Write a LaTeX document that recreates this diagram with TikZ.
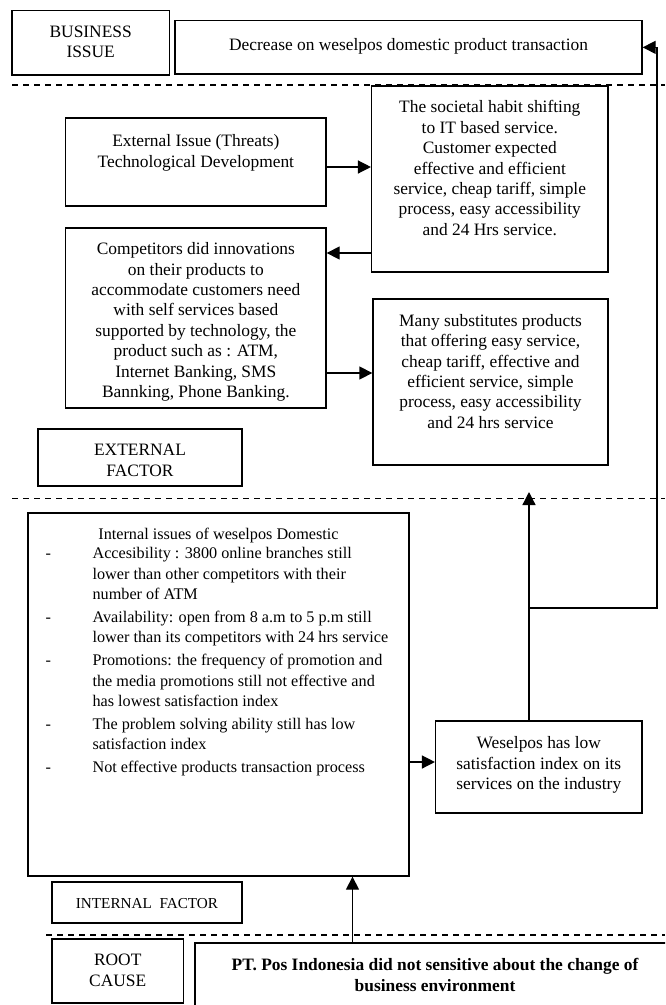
\documentclass[tikz,border=0pt]{standalone}
\usepackage{fontspec}
\setmainfont{Liberation Serif}
\usetikzlibrary{arrows.meta,calc}
\tikzset{
  box/.style={draw, line width=1.3pt, rectangle, inner sep=0pt},
  txt/.style={inner sep=0pt, align=center, font=\fontsize{17.4}{20.4}\selectfont,
              execute at begin node={\rule{0pt}{14pt}}},
  smalltxt/.style={inner sep=0pt, align=center, font=\fontsize{16.2}{20.4}\selectfont,
              execute at begin node={\rule{0pt}{14pt}}},
  listtxt/.style={inner sep=0pt, font=\fontsize{16.2}{20.4}\selectfont},
  conn/.style={line width=1.3pt, -{Triangle[length=13pt,width=13pt]}},
  sepline/.style={line width=1.3pt, dash pattern=on 6pt off 5pt},
}
\begin{document}
\begin{tikzpicture}[x=1pt,y=-1pt]
\clip (0,0) rectangle (665,1005);
% separators
\draw[sepline] (12,85) -- (665,85);
\draw[sepline] (12,498.5) -- (665,498.5);
\draw[sepline] (46,935) -- (665,935);
% boxes
\node[box, minimum width=157.6pt, minimum height=64.3pt] (bus) at (90.7,42.85) {};
\node[box, minimum width=467pt, minimum height=53.3pt] (dec) at (408.5,47.35) {};
\node[box, minimum width=260.3pt, minimum height=88pt] (ext) at (195.85,162) {};
\node[box, minimum width=236.4pt, minimum height=186pt] (soc) at (489.8,179) {};
\node[box, minimum width=260.3pt, minimum height=180pt] (comp) at (195.85,318) {};
\node[box, minimum width=235pt, minimum height=166pt] (many) at (490.5,382) {};
\node[box, minimum width=204pt, minimum height=57pt] (extf) at (140,457.5) {};
\node[box, minimum width=381pt, minimum height=363pt] (int) at (218.5,694.5) {};
\node[box, minimum width=206.4pt, minimum height=92pt] (wes) at (538.8,767) {};
\node[box, minimum width=190pt, minimum height=41pt] (intf) at (147,902.5) {};
\node[box, minimum width=131.5pt, minimum height=64pt] (root) at (117.75,971) {};
\node[box, minimum width=480pt, minimum height=87pt] (pt) at (435,986.5) {};
% texts
\node[txt, anchor=north] (bust) at (90.7,25.7) {BUSINESS\\ISSUE};
\node[txt, anchor=north] (dect) at (408.5,35.8) {Decrease on weselpos domestic product transaction};
\node[txt, anchor=north] (extt) at (195.85,134.5) {External Issue (Threats)\\Technological Development};
\node[txt, anchor=north] (soct) at (489.8,100.5) {The societal habit shifting\\to IT based service.\\Customer expected\\effective and efficient\\service, cheap tariff, simple\\process, easy accessibility\\and 24 Hrs service.};
\node[txt, anchor=north] (compt) at (195.85,242.5) {Competitors did innovations\\on their products to\\accommodate customers need\\with self services based\\supported by technology, the\\product such as : ATM,\\Internet Banking, SMS\\Bannking, Phone Banking.};
\node[txt, anchor=north] (manyt) at (490.5,314) {Many substitutes products\\that offering easy service,\\cheap tariff, effective and\\efficient service, simple\\process, easy accessibility\\and 24 hrs service};
\node[txt, anchor=north] (extft) at (140,444) {EXTERNAL\\FACTOR};
\node[smalltxt, anchor=north] (inth) at (218.5,525.5) {Internal issues of weselpos Domestic};
\node[listtxt, anchor=north west] (intl) at (45.5,544.2) {%
\begin{tabular}{@{}p{46.9pt}@{}l@{}}
-&Accesibility : 3800 online branches still\\
&lower than other competitors with their\\
&number of ATM\\[2.5pt]
-&Availability: open from 8 a.m to 5 p.m still\\
&lower than its competitors with 24 hrs service\\[2.5pt]
-&Promotions: the frequency of promotion and\\
&the media promotions still not effective and\\
&has lowest satisfaction index\\[2.5pt]
-&The problem solving ability still has low\\
&satisfaction index\\[2.5pt]
-&Not effective products transaction process
\end{tabular}};
\node[txt, anchor=north] (west) at (538.8,736.5) {Weselpos has low\\satisfaction index on its\\services on the industry};
\node[txt, anchor=north, font=\fontsize{15.2}{20.4}\selectfont] (intft) at (147,894) {INTERNAL\ \ FACTOR};
\node[txt, anchor=north] (roott) at (117.75,954) {ROOT\\CAUSE};
\node[txt, anchor=north, font=\fontsize{17.4}{20.4}\selectfont\bfseries] (ptt) at (435,958.5) {PT. Pos Indonesia did not sensitive about the change of\\business environment};
% connector coordinates
\coordinate (y1) at (0,167);
\coordinate (y2) at (0,253);
\coordinate (y3) at (0,373);
\coordinate (y4) at (0,762);
\coordinate (upx) at (529,492);
\coordinate (br) at (529,608);
\coordinate (rc) at (657,608);
\coordinate (ax) at (352.5,900);
% connectors
\draw[conn] (ext.east |- y1) -- (soc.west |- y1);
\draw[conn] (soc.west |- y2) -- (comp.east |- y2);
\draw[conn] (comp.east |- y3) -- (many.west |- y3);
\draw[conn] (int.east |- y4) -- (wes.west |- y4);
\draw[conn] (wes.north -| upx) -- (upx);
\draw[conn] (br) -- (rc) |- (dec.east);
\draw[conn] (pt.north -| ax) -- (int.south -| ax);
\end{tikzpicture}
\end{document}
